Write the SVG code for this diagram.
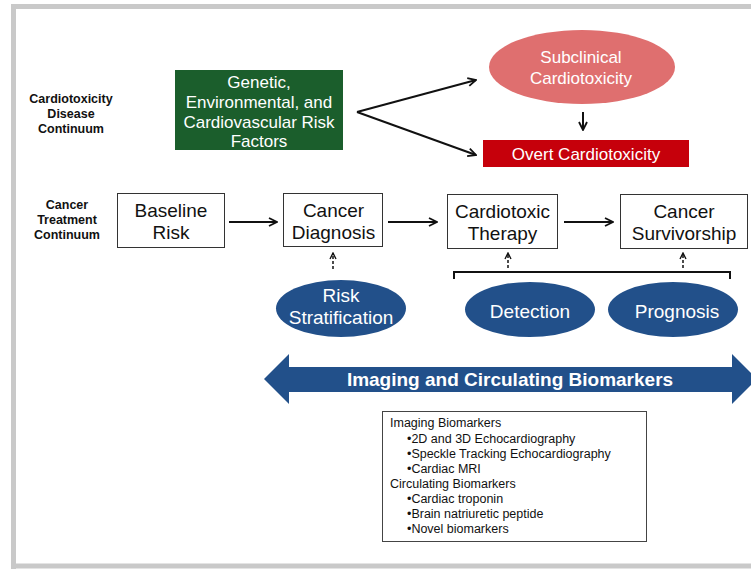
<svg xmlns="http://www.w3.org/2000/svg" width="751" height="569" viewBox="0 0 751 569">
<defs>
<style>
.lbl{font-family:"Liberation Sans",Arial,sans-serif;font-weight:bold;font-size:12.5px;fill:#111;text-anchor:middle}
.box{fill:#fff;stroke:#333;stroke-width:1}
.bt{font-family:"Liberation Sans",Arial,sans-serif;font-size:19px;fill:#111;text-anchor:middle}
.wt{font-family:"Liberation Sans",Arial,sans-serif;font-size:17px;fill:#fff;text-anchor:middle}
.blue{fill:#22508a}
.et{font-family:"Liberation Sans",Arial,sans-serif;font-size:19px;fill:#fff;text-anchor:middle}
.conn{stroke:#111;stroke-width:2;fill:none}
.dash{stroke:#111;stroke-width:1.5;fill:none;stroke-dasharray:3,2}
.it{font-family:"Liberation Sans",Arial,sans-serif;font-size:12.5px;fill:#111}
</style>
<marker id="ah" viewBox="0 0 10 10" refX="9" refY="5" markerWidth="5" markerHeight="5" orient="auto-start-reverse">
<path d="M1,1 L9,5 L1,9" fill="none" stroke="#111" stroke-width="1.8"/>
</marker>
</defs>
<rect x="0" y="0" width="751" height="569" fill="#fff"/>
<path d="M13.5,569 V6.5 H751" fill="none" stroke="#c9c9c9" stroke-width="5"/>
<path d="M13.5,566 H751" fill="none" stroke="#c9c9c9" stroke-width="5"/>

<g id="label-disease">
<text class="lbl" x="71" y="103">Cardiotoxicity</text>
<text class="lbl" x="71" y="118">Disease</text>
<text class="lbl" x="71" y="133">Continuum</text>
</g>
<g id="label-treatment">
<text class="lbl" x="67" y="209">Cancer</text>
<text class="lbl" x="67" y="224">Treatment</text>
<text class="lbl" x="67" y="239">Continuum</text>
</g>

<g id="risk-factors">
<rect x="175" y="70" width="168" height="80" fill="#1b5e2c"/>
<text class="wt" x="259" y="88">Genetic,</text>
<text class="wt" x="259" y="108">Environmental, and</text>
<text class="wt" x="259" y="128">Cardiovascular Risk</text>
<text class="wt" x="259" y="147">Factors</text>
</g>

<g id="subclinical">
<ellipse cx="582" cy="67" rx="93" ry="37" fill="#df6f6f"/>
<text class="wt" x="581" y="63" fill="#fbe6e6">Subclinical</text>
<text class="wt" x="581" y="84" fill="#fbe6e6">Cardiotoxicity</text>
</g>

<g id="overt">
<rect x="483" y="140" width="206" height="27" fill="#c6000b"/>
<text class="wt" x="586" y="160">Overt Cardiotoxicity</text>
</g>

<g id="baseline">
<rect class="box" x="117.5" y="193.5" width="107" height="54"/>
<text class="bt" x="171" y="217">Baseline</text>
<text class="bt" x="171" y="239">Risk</text>
</g>
<g id="diagnosis">
<rect class="box" x="283.5" y="193.5" width="99" height="53"/>
<text class="bt" x="333.5" y="217">Cancer</text>
<text class="bt" x="333.5" y="239">Diagnosis</text>
</g>
<g id="therapy">
<rect class="box" x="447.5" y="194.5" width="110" height="54"/>
<text class="bt" x="502.5" y="218">Cardiotoxic</text>
<text class="bt" x="502.5" y="240">Therapy</text>
</g>
<g id="survivorship">
<rect class="box" x="620.5" y="194.5" width="127" height="54"/>
<text class="bt" x="684" y="218">Cancer</text>
<text class="bt" x="684" y="240">Survivorship</text>
</g>

<g id="risk-strat">
<ellipse class="blue" cx="341" cy="308.5" rx="65" ry="28.5"/>
<text class="et" x="341" y="302">Risk</text>
<text class="et" x="341" y="324">Stratification</text>
</g>
<g id="detection">
<ellipse class="blue" cx="530" cy="309.5" rx="65" ry="27.5"/>
<text class="et" x="530" y="318">Detection</text>
</g>
<g id="prognosis">
<ellipse class="blue" cx="673" cy="309.5" rx="65" ry="27.5"/>
<text class="et" x="677" y="318">Prognosis</text>
</g>

<g id="biomarkers-arrow">
<path d="M264,379 L289,354 L289,367 L732,367 L732,354 L757,379 L732,404 L732,392 L289,392 L289,404 Z" fill="#22508a"/>
<text x="510" y="386" font-family="'Liberation Sans',Arial,sans-serif" font-size="19" font-weight="bold" fill="#fff" text-anchor="middle">Imaging and Circulating Biomarkers</text>
</g>

<g id="biomarker-list">
<rect x="382.5" y="411.5" width="264" height="130" fill="#fff" stroke="#444" stroke-width="1"/>
<text class="it" x="390" y="427">Imaging Biomarkers</text>
<text class="it" x="407" y="443">•2D and 3D Echocardiography</text>
<text class="it" x="407" y="458">•Speckle Tracking Echocardiography</text>
<text class="it" x="407" y="473">•Cardiac MRI</text>
<text class="it" x="390" y="488">Circulating Biomarkers</text>
<text class="it" x="407" y="503">•Cardiac troponin</text>
<text class="it" x="407" y="518">•Brain natriuretic peptide</text>
<text class="it" x="407" y="533">•Novel biomarkers</text>
</g>

<g id="connectors">
<line class="conn" x1="357" y1="112" x2="476" y2="80" marker-end="url(#ah)"/>
<line class="conn" x1="357" y1="112" x2="476" y2="155" marker-end="url(#ah)"/>
<line class="conn" x1="583" y1="112" x2="583" y2="130" marker-end="url(#ah)"/>
<line class="conn" x1="229" y1="222" x2="277" y2="222" marker-end="url(#ah)"/>
<line class="conn" x1="388" y1="222" x2="437" y2="222" marker-end="url(#ah)"/>
<line class="conn" x1="564" y1="222" x2="613" y2="222" marker-end="url(#ah)"/>
<line class="dash" x1="333" y1="269" x2="333" y2="253" marker-end="url(#ah)"/>
<line class="dash" x1="508" y1="268" x2="508" y2="253" marker-end="url(#ah)"/>
<line class="dash" x1="683" y1="268" x2="683" y2="253" marker-end="url(#ah)"/>
<path d="M454,279 V272 H730 V279" fill="none" stroke="#111" stroke-width="2"/>
</g>
</svg>
